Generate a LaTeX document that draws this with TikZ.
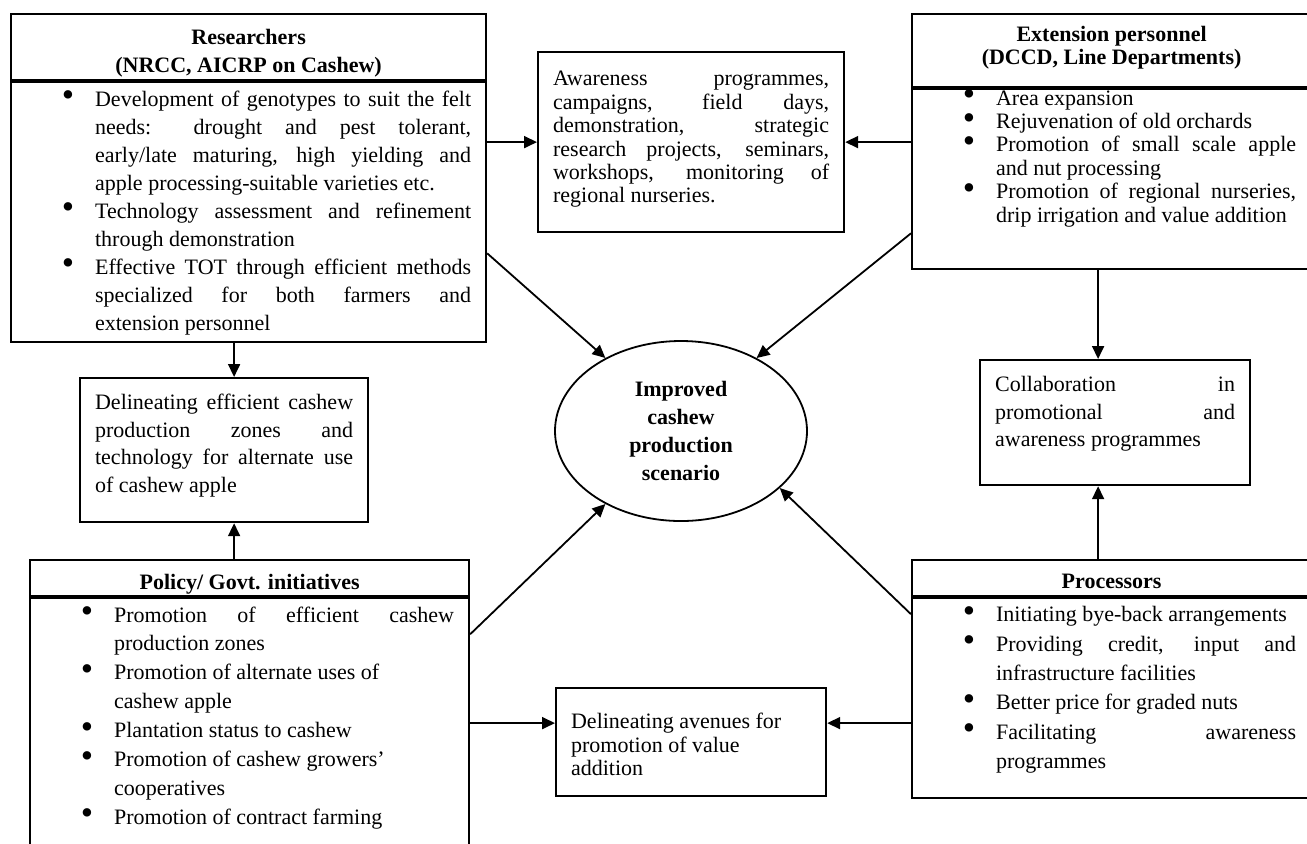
\documentclass[tikz,border=0pt]{standalone}
\usepackage{fontspec}
\setmainfont{Liberation Serif}
\usepackage{enumitem}
\usetikzlibrary{positioning,arrows.meta,shapes.geometric}
\newcommand{\bigdot}{\rlap{\raisebox{-0.3pt}{\scalebox{1.6}{\textbullet}}}}
\setlist[itemize]{label=\bigdot, labelindent=17.9pt, labelwidth=4pt,
		labelsep=12.6pt, leftmargin=34.5pt, align=left,
		itemsep=0pt, parsep=0pt, topsep=0pt, partopsep=0pt}
\hyphenpenalty=10000 \exhyphenpenalty=10000
\hbadness=10000 \vbadness=10000 \hfuzz=2pt \vfuzz=20pt
% text of a box: width, height, gap above first line, content
\newcommand{\boxtext}[4]{\parbox[t][#2][t]{#1}{\vspace*{#3}#4}}
\tikzset{
		>={Triangle[length=6.5pt,width=6pt]},
			frame/.style={draw=black, line width=1.1pt,
				inner xsep=7.5pt, inner ysep=0pt},
			leading/.style={font=\fontsize{11pt}{#1}\selectfont},
			core/.style={ellipse, draw=black, line width=0.9pt,
				minimum width=126pt, minimum height=90pt, inner sep=0pt,
				align=center, font=\fontsize{11pt}{13.85pt}\selectfont\bfseries},
			link/.style={->, line width=0.9pt},
		}
\begin{document}
\begin{tikzpicture}
				[x=0.5pt, y=-0.5pt, node distance=0pt]
				\useasboundingbox (0,0) rectangle (1307,843);

				% researchers
				\node[frame, leading=14pt, anchor=north west] (reshead) at (10,13)
					{\boxtext{222.5pt}{33pt}{7.6pt}{\centering\bfseries Researchers\\(NRCC, AICRP on Cashew)}};
				\node[frame, leading=14pt, below=of reshead] (resbody)
					{\boxtext{222.5pt}{130pt}{4.1pt}{\begin{itemize}
						\item Development of genotypes to suit the felt \linebreak needs: drought and pest tolerant, \linebreak early/late maturing, high yielding and \linebreak apple processing-suitable varieties etc.
						\item Technology assessment and refinement \linebreak through demonstration
						\item Effective TOT through efficient methods \linebreak specialized for both farmers and \linebreak extension personnel
					\end{itemize}}};

				\node[frame, leading=11.7pt, anchor=north west] (aware) at (537,51)
					{\boxtext{138pt}{90pt}{9.6pt}{Awareness programmes, \linebreak campaigns, field days, \linebreak demonstration, strategic \linebreak research projects, seminars, \linebreak workshops, monitoring of \linebreak regional nurseries.}};

				% extension personnel
				\node[frame, leading=11.5pt, anchor=north west] (exthead) at (911,13)
					{\boxtext{184.5pt}{36.5pt}{6.1pt}{\centering\bfseries Extension personnel\\(DCCD, Line Departments)}};
				\node[frame, leading=11.7pt, below=of exthead] (extbody)
					{\boxtext{184.5pt}{90pt}{0.3pt}{\begin{itemize}
						\item Area expansion
						\item Rejuvenation of old orchards
						\item Promotion of small scale apple \linebreak and nut processing
						\item Promotion of regional nurseries, \linebreak drip irrigation and value addition
					\end{itemize}}};

				\node[frame, leading=13.7pt, anchor=north west] (delin) at (79,377)
					{\boxtext{129pt}{72pt}{8.1pt}{Delineating efficient cashew \linebreak production zones and \linebreak technology for alternate use \linebreak of cashew apple}};

				\node[frame, leading=13.8pt, anchor=north west] (collab) at (979,359)
					{\boxtext{120pt}{62.5pt}{8.1pt}{Collaboration in \linebreak promotional and \linebreak awareness programmes}};

				\node[core] (scen) at (681,431) {Improved\\cashew\\production\\scenario};

				% policy
				\node[frame, leading=14pt, anchor=north west] (polhead) at (29,559)
					{\boxtext{204.5pt}{18pt}{7.1pt}{\centering\bfseries Policy/ Govt. initiatives}};
				\node[frame, leading=14.45pt, below=of polhead] (polbody)
					{\boxtext{204.5pt}{130pt}{4.1pt}{\begin{itemize}
						\item Promotion of efficient cashew \linebreak production zones
						\item Promotion of alternate uses of \newline cashew apple
						\item Plantation status to cashew
						\item Promotion of cashew growers' \newline cooperatives
						\item Promotion of contract farming
					\end{itemize}}};

				\node[frame, leading=11.6pt, anchor=north west] (aven) at (555,687)
					{\boxtext{120pt}{54pt}{12.6pt}{Delineating avenues for \newline promotion of value \newline addition}};

				% processors
				\node[frame, leading=14pt, anchor=north west] (prochead) at (911,559)
					{\boxtext{184.5pt}{18pt}{7.1pt}{\centering\bfseries Processors}};
				\node[frame, leading=14.7pt, below=of prochead] (procbody)
					{\boxtext{184.5pt}{100pt}{4.1pt}{\begin{itemize}
						\item Initiating bye-back arrangements
						\item Providing credit, input and \linebreak infrastructure facilities
						\item Better price for graded nuts
						\item Facilitating awareness \linebreak programmes
					\end{itemize}}};

				% connectors
				\draw[link] (aware.west -| resbody.east) -- (aware.west);
				\draw[link] (aware.east -| extbody.west) -- (aware.east);
				\draw[link] ([yshift=-20.5pt]resbody.east) -- (scen.136);
				\draw[link] ([yshift=-27pt]extbody.west) -- (scen.44);
				\draw[link] ([yshift=-18.5pt]polbody.north east) -- (scen.224);
				\draw[link] ([yshift=-8.5pt]procbody.north west) -- (scen.-30);
				\draw[link] ([xshift=5pt]delin.north |- resbody.south) -- ([xshift=5pt]delin.north);
				\draw[link] ([xshift=5pt]delin.south |- polhead.north) -- ([xshift=5pt]delin.south);
				\draw[link] ([xshift=-8.5pt]collab.north |- extbody.south) -- ([xshift=-8.5pt]collab.north);
				\draw[link] ([xshift=-8.5pt]collab.south |- prochead.north) -- ([xshift=-8.5pt]collab.south);
				\draw[link] ([yshift=9.5pt]aven.west -| polbody.east) -- ([yshift=9.5pt]aven.west);
				\draw[link] ([yshift=9.5pt]aven.east -| procbody.west) -- ([yshift=9.5pt]aven.east);

			\end{tikzpicture}
\end{document}
